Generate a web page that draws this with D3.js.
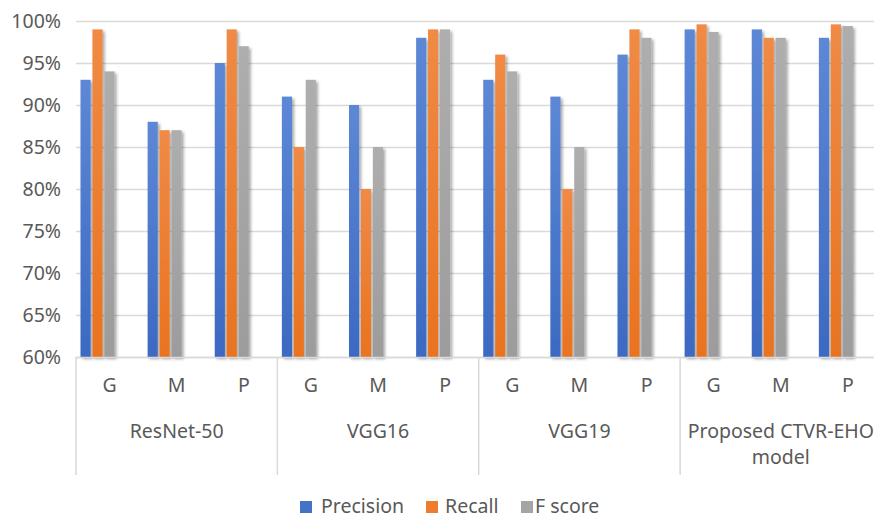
<!DOCTYPE html>
<html>
<head>
<meta charset="utf-8">
<script src="https://cdn.jsdelivr.net/npm/d3@7"></script>
<style>
  html, body { margin: 0; padding: 0; background: #fff; }
  svg { display: block; font-family: "Noto Sans", sans-serif; }
</style>
</head>
<body>
<svg id="chart" width="874" height="520"></svg>
<script>
// ---- data ----
const groups = ["ResNet-50", "VGG16", "VGG19", "Proposed CTVR-EHO model"];
const subcats = ["G", "M", "P"];
const seriesNames = ["Precision", "Recall", "F score"];
const precision = [93, 88, 95, 91, 90, 98, 93, 91, 96, 99, 99, 98];
const recall    = [99, 87, 99, 85, 80, 99, 96, 80, 99, 99.6, 98, 99.6];
const fscore    = [94, 87, 97, 93, 85, 99, 94, 85, 98, 98.7, 98, 99.4];
const yTicks = [60, 65, 70, 75, 80, 85, 90, 95, 100];
const colors = ["#4472C4", "#ED7D31", "#A5A5A5"];

const seriesValues = [precision, recall, fscore];
const cats = [];
groups.forEach(g => subcats.forEach(s => cats.push({ group: g, sub: s, key: g + "|" + s })));

// ---- layout ----
const svg = d3.select("#chart");
const pLeft = 76, pRight = 881.5, pTop = 21, pBottom = 357;
const FS = "19.5px";

const x = d3.scaleBand().domain(cats.map(c => c.key)).range([pLeft, pRight]).padding(0);
const xGroup = d3.scaleBand().domain(groups).range([pLeft, pRight]).padding(0);
const xs = d3.scaleBand().domain(seriesNames).range([4.5, 38.5]).paddingInner(0.15);
const y = d3.scaleLinear().domain([60, 100]).range([pBottom, pTop]);

// defs: gradients + shadow
const defs = svg.append("defs");
const grads = [
  ["#5D88D6", "#3C69C2"],
  ["#F08A45", "#E9731F"],
  ["#AEAEAE", "#9C9C9C"]
];
grads.forEach((g, i) => {
  const lgr = defs.append("linearGradient").attr("id", "g" + i)
    .attr("x1", 0).attr("y1", 0).attr("x2", 0).attr("y2", 1);
  lgr.append("stop").attr("offset", "0%").attr("stop-color", g[0]);
  lgr.append("stop").attr("offset", "100%").attr("stop-color", g[1]);
});
const flt = defs.append("filter").attr("id", "shadow")
  .attr("x", "-50%").attr("y", "-10%").attr("width", "200%").attr("height", "130%");
flt.append("feDropShadow").attr("dx", 2).attr("dy", 2).attr("stdDeviation", 1.6)
  .attr("flood-color", "#000").attr("flood-opacity", 0.35);

// gridlines
const yAxis = d3.axisLeft(y).tickValues(yTicks).tickSize(-(874 - pLeft)).tickFormat(d => d + "%");
const gy = svg.append("g").attr("transform", `translate(${pLeft},0)`).call(yAxis);
gy.select(".domain").remove();
gy.selectAll(".tick line").attr("stroke", "#D9D9D9").attr("stroke-width", 1.3);
gy.selectAll(".tick text")
  .attr("x", -15)
  .attr("fill", "#595959")
  .attr("font-size", FS)
  .attr("font-family", "'Noto Sans', sans-serif");

// bars
const barData = [];
cats.forEach((c, ci) => {
  seriesNames.forEach((s, si) => {
    barData.push({ key: c.key, series: s, si: si, value: seriesValues[si][ci] });
  });
});
svg.append("g").selectAll("rect").data(barData).join("rect")
  .attr("x", d => x(d.key) + xs(d.series))
  .attr("width", xs.bandwidth())
  .attr("y", d => y(d.value))
  .attr("height", d => y(60) - y(d.value))
  .attr("fill", d => `url(#g${d.si})`)
  .attr("filter", "url(#shadow)");

// bottom axis line
svg.append("line").attr("x1", pLeft).attr("x2", 874).attr("y1", pBottom + 0.5).attr("y2", pBottom + 0.5)
  .attr("stroke", "#D9D9D9").attr("stroke-width", 1.5);

// group separators
const sepX = groups.map(g => xGroup(g)).concat([pRight]);
svg.append("g").selectAll("line").data(sepX).join("line")
  .attr("x1", d => d).attr("x2", d => d)
  .attr("y1", pBottom).attr("y2", 475)
  .attr("stroke", "#D9D9D9").attr("stroke-width", 1.5);

// sub-category labels
svg.append("g").selectAll("text").data(cats).join("text")
  .attr("x", d => x(d.key) + x.bandwidth() / 2)
  .attr("y", 392)
  .attr("text-anchor", "middle")
  .attr("fill", "#595959")
  .attr("font-size", FS)
  .text(d => d.sub);

// group labels (wrapped)
const gl = svg.append("g").selectAll("text").data(groups).join("text")
  .attr("x", d => xGroup(d) + xGroup.bandwidth() / 2)
  .attr("y", 438)
  .attr("text-anchor", "middle")
  .attr("fill", "#595959")
  .attr("font-size", FS);
gl.each(function(d) {
  const el = d3.select(this);
  const words = d.split(" ");
  const maxW = xGroup.bandwidth() - 4;
  let line = [];
  const lines = [];
  const tmp = el.append("tspan");
  words.forEach(w => {
    const test = line.concat([w]).join(" ");
    tmp.text(test);
    if (tmp.node().getComputedTextLength() > maxW && line.length) {
      lines.push(line.join(" "));
      line = [w];
    } else {
      line.push(w);
    }
  });
  lines.push(line.join(" "));
  tmp.remove();
  const cx = xGroup(d) + xGroup.bandwidth() / 2;
  lines.forEach((t, i) => {
    el.append("tspan").attr("x", cx).attr("dy", i === 0 ? 0 : 26).text(t);
  });
});

// legend
const legendSq = [300, 426, 521];
const legendTx = [321, 445, 535];
const lgd = svg.append("g").selectAll("g").data(seriesNames).join("g");
lgd.append("rect").attr("x", (d, i) => legendSq[i]).attr("y", 501).attr("width", 12).attr("height", 12)
  .attr("fill", (d, i) => colors[i]);
lgd.append("text").attr("x", (d, i) => legendTx[i]).attr("y", 513)
  .attr("fill", "#595959").attr("font-size", FS).text(d => d);
</script>
</body>
</html>
